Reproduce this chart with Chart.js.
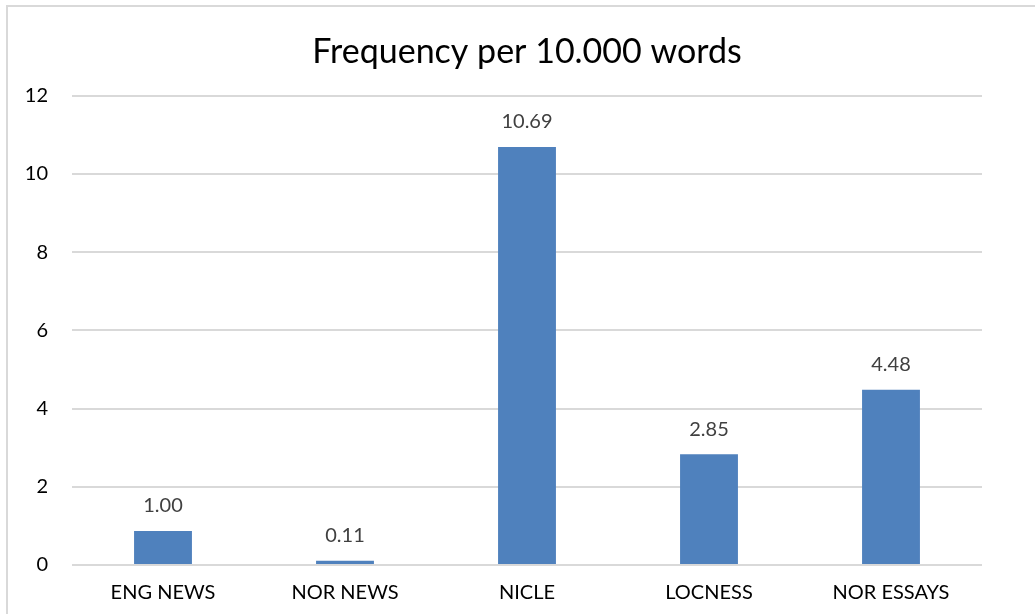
<!DOCTYPE html>
<html>
<head>
<meta charset="utf-8">
<script src="https://cdn.jsdelivr.net/npm/chart.js@4.4.0/dist/chart.umd.min.js"></script>
<style>
html,body{margin:0;padding:0;background:#fff;overflow:hidden;}
#wrap{position:relative;width:1035px;height:614px;}
#frame{position:absolute;left:6px;top:5px;width:1100px;height:700px;border-left:2px solid #d9d9d9;border-top:2px solid #d9d9d9;}
canvas{position:absolute;left:0;top:0;}
</style>
</head>
<body>
<div id="wrap">
<div id="frame"></div>
<canvas id="c" width="1035" height="614"></canvas>
</div>
<script>
const categories = ["ENG NEWS", "NOR NEWS", "NICLE", "LOCNESS", "NOR ESSAYS"];
const barValues = [0.87, 0.11, 10.69, 2.83, 4.48];
const valueLabels = ["1.00", "0.11", "10.69", "2.85", "4.48"];
const chartTitle = "Frequency per 10.000 words";
const yMin = 0, yMax = 12, yStep = 2;

const FONT = "Lato, 'Open Sans', sans-serif";

const titleCenterPlugin = {
  id: 'titleCenter',
  beforeDraw(chart) {
    const tb = chart.titleBlock;
    if (tb) {
      tb.left = chart.chartArea.left;
      tb.right = chart.chartArea.right;
      tb.width = tb.right - tb.left;
    }
  }
};

const dataLabelPlugin = {
  id: 'dataLabels',
  afterDatasetsDraw(chart) {
    const ctx = chart.ctx;
    const meta = chart.getDatasetMeta(0);
    ctx.save();
    ctx.font = "20px " + FONT;
    ctx.fillStyle = "#404040";
    ctx.textAlign = "center";
    ctx.textBaseline = "middle";
    meta.data.forEach((bar, i) => {
      ctx.fillText(valueLabels[i], bar.x, bar.y - 25);
    });
    ctx.restore();
  }
};

new Chart(document.getElementById('c'), {
  type: 'bar',
  data: {
    labels: categories,
    datasets: [{
      data: barValues,
      backgroundColor: '#4F81BD',
      borderWidth: 0,
      categoryPercentage: 1.0,
      barPercentage: 0.318
    }]
  },
  options: {
    responsive: false,
    animation: false,
    devicePixelRatio: 1,
    layout: { padding: { left: 0, right: 53, top: 0, bottom: 0 } },
    plugins: {
      legend: { display: false },
      tooltip: { enabled: false },
      title: {
        display: true,
        text: chartTitle,
        color: '#000',
        font: { family: FONT, size: 34, weight: 'normal' },
        padding: { top: 32, bottom: 23 }
      }
    },
    scales: {
      x: {
        afterFit(scale) { scale.height = 49; },
        grid: { display: false, drawTicks: false },
        border: { display: false },
        ticks: { color: '#000', font: { family: FONT, size: 20 }, padding: 16, maxRotation: 0 }
      },
      y: {
        min: yMin, max: yMax,
        afterFit(scale) { scale.width = 72; },
        grid: { color: '#d9d9d9', lineWidth: 2, drawTicks: false },
        border: { display: false },
        ticks: { stepSize: yStep, color: '#000', font: { family: FONT, size: 20 }, padding: 24 }
      }
    }
  },
  plugins: [titleCenterPlugin, dataLabelPlugin]
});
</script>
</body>
</html>
